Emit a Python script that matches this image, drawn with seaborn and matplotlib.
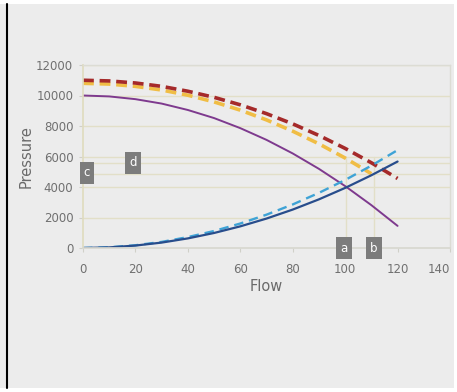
import matplotlib
matplotlib.use("Agg")
import matplotlib.pyplot as plt
import seaborn as sns
from matplotlib.lines import Line2D
from matplotlib.patches import Rectangle

sns.set_theme(style="white")
plt.rcParams['font.family'] = ['DejaVu Sans']

# values
flow = [0, 10, 20, 30, 40, 50, 60, 70, 80, 90, 100, 110, 120]
pump_single = [10000, 9940, 9760, 9470, 9050, 8520, 7860, 7090, 6200, 5190, 4060, 2810, 1450]
pump_red = [11000, 10955, 10820, 10600, 10280, 9880, 9390, 8810, 8140, 7380, 6530, 5590, 4560]
flow_yellow = [0, 10, 20, 30, 40, 50, 60, 70, 80, 90, 100, 110]
pump_yellow = [10800, 10750, 10600, 10360, 10020, 9580, 9040, 8400, 7660, 6830, 5900, 4870]
system_solid = [0, 40, 160, 355, 630, 985, 1420, 1930, 2520, 3190, 3940, 4770, 5670]
system_dashed = [0, 45, 180, 400, 715, 1115, 1605, 2185, 2855, 3615, 4460, 5400, 6420]

x_ticks = [0, 20, 40, 60, 80, 100, 120, 140]
y_ticks = [0, 2000, 4000, 6000, 8000, 10000, 12000]

# marker lines and boxed letters
h_marks = [5570, 4850]
v_marks = [100.5, 111]
labels = ['a', 'b', 'c', 'd']
label_x = [99.6, 111, 1.5, 19]
label_y = [0, 0, 4920, 5576]

bg = '#ececec'
grid_c = '#e2dfc8'

fig = plt.figure(figsize=(4.57, 3.92), dpi=100)
fig.patch.set_facecolor('white')
fig.add_artist(Rectangle((0.0, 0.01), 0.993, 0.98, transform=fig.transFigure,
                         facecolor=bg, edgecolor='none', zorder=-10))
fig.add_artist(Line2D([7 / 457, 7 / 457], [4 / 392, 388 / 392], transform=fig.transFigure,
                      color='black', lw=1.5))

ax = fig.add_axes([83 / 457, (392 - 248) / 392, 367 / 457, 183 / 392])
ax.set_facecolor(bg)

for yv in y_ticks[1:]:
    ax.axhline(yv, color=grid_c, lw=1.0, zorder=0)
for yv in h_marks:
    ax.axhline(yv, color=grid_c, lw=1.0, zorder=0)
for xv in v_marks:
    ax.plot([xv, xv], [0, 6000], color=grid_c, lw=1.0, zorder=0)

sns.lineplot(x=flow_yellow, y=pump_yellow, ax=ax, color='#f0bd45', lw=2.6,
             linestyle=(0, (3, 1.6)))
sns.lineplot(x=flow, y=pump_red, ax=ax, color='#a52a2a', lw=2.6, linestyle=(0, (3, 1.6)))
sns.lineplot(x=flow, y=pump_single, ax=ax, color='#7e3a8e', lw=1.4)
sns.lineplot(x=flow, y=system_dashed, ax=ax, color='#3fa3d6', lw=1.7, linestyle=(0, (4, 2.5)))
sns.lineplot(x=flow, y=system_solid, ax=ax, color='#284d8c', lw=1.6)

for lab, lx, ly in zip(labels, label_x, label_y):
    ax.text(lx, ly, lab, color='white', fontsize=8.5, ha='center', va='center', zorder=5,
            clip_on=False,
            bbox=dict(boxstyle='square,pad=0.35', facecolor='#7c7c7c', edgecolor='none'))

ax.set_xlim(0, 140)
ax.set_ylim(0, 12000)
ax.set_xticks(x_ticks)
ax.set_yticks(y_ticks)
ax.tick_params(axis='both', labelsize=8.5, colors='#d0d0c8', labelcolor='#707070',
               length=3, width=0.8, direction='out', bottom=True, left=True)
ax.tick_params(axis='x', pad=8)
ax.tick_params(axis='y', pad=4)
# last x label sits inside the figure edge, as in the reference
ax.get_xticklabels()[-1].set_horizontalalignment('right')

for side in ['top', 'right']:
    ax.spines[side].set_color('#dcdcd4')
    ax.spines[side].set_linewidth(1.0)
ax.spines['left'].set_color('#e0dcc0')
ax.spines['bottom'].set_color('#d8d8d0')

ax.set_xlabel('Flow', fontsize=10.5, color='#6a6a6a', labelpad=2)
ax.set_ylabel('Pressure', fontsize=10.5, color='#6a6a6a', labelpad=2)

fig.savefig('out.png', dpi=100, facecolor=fig.get_facecolor())
